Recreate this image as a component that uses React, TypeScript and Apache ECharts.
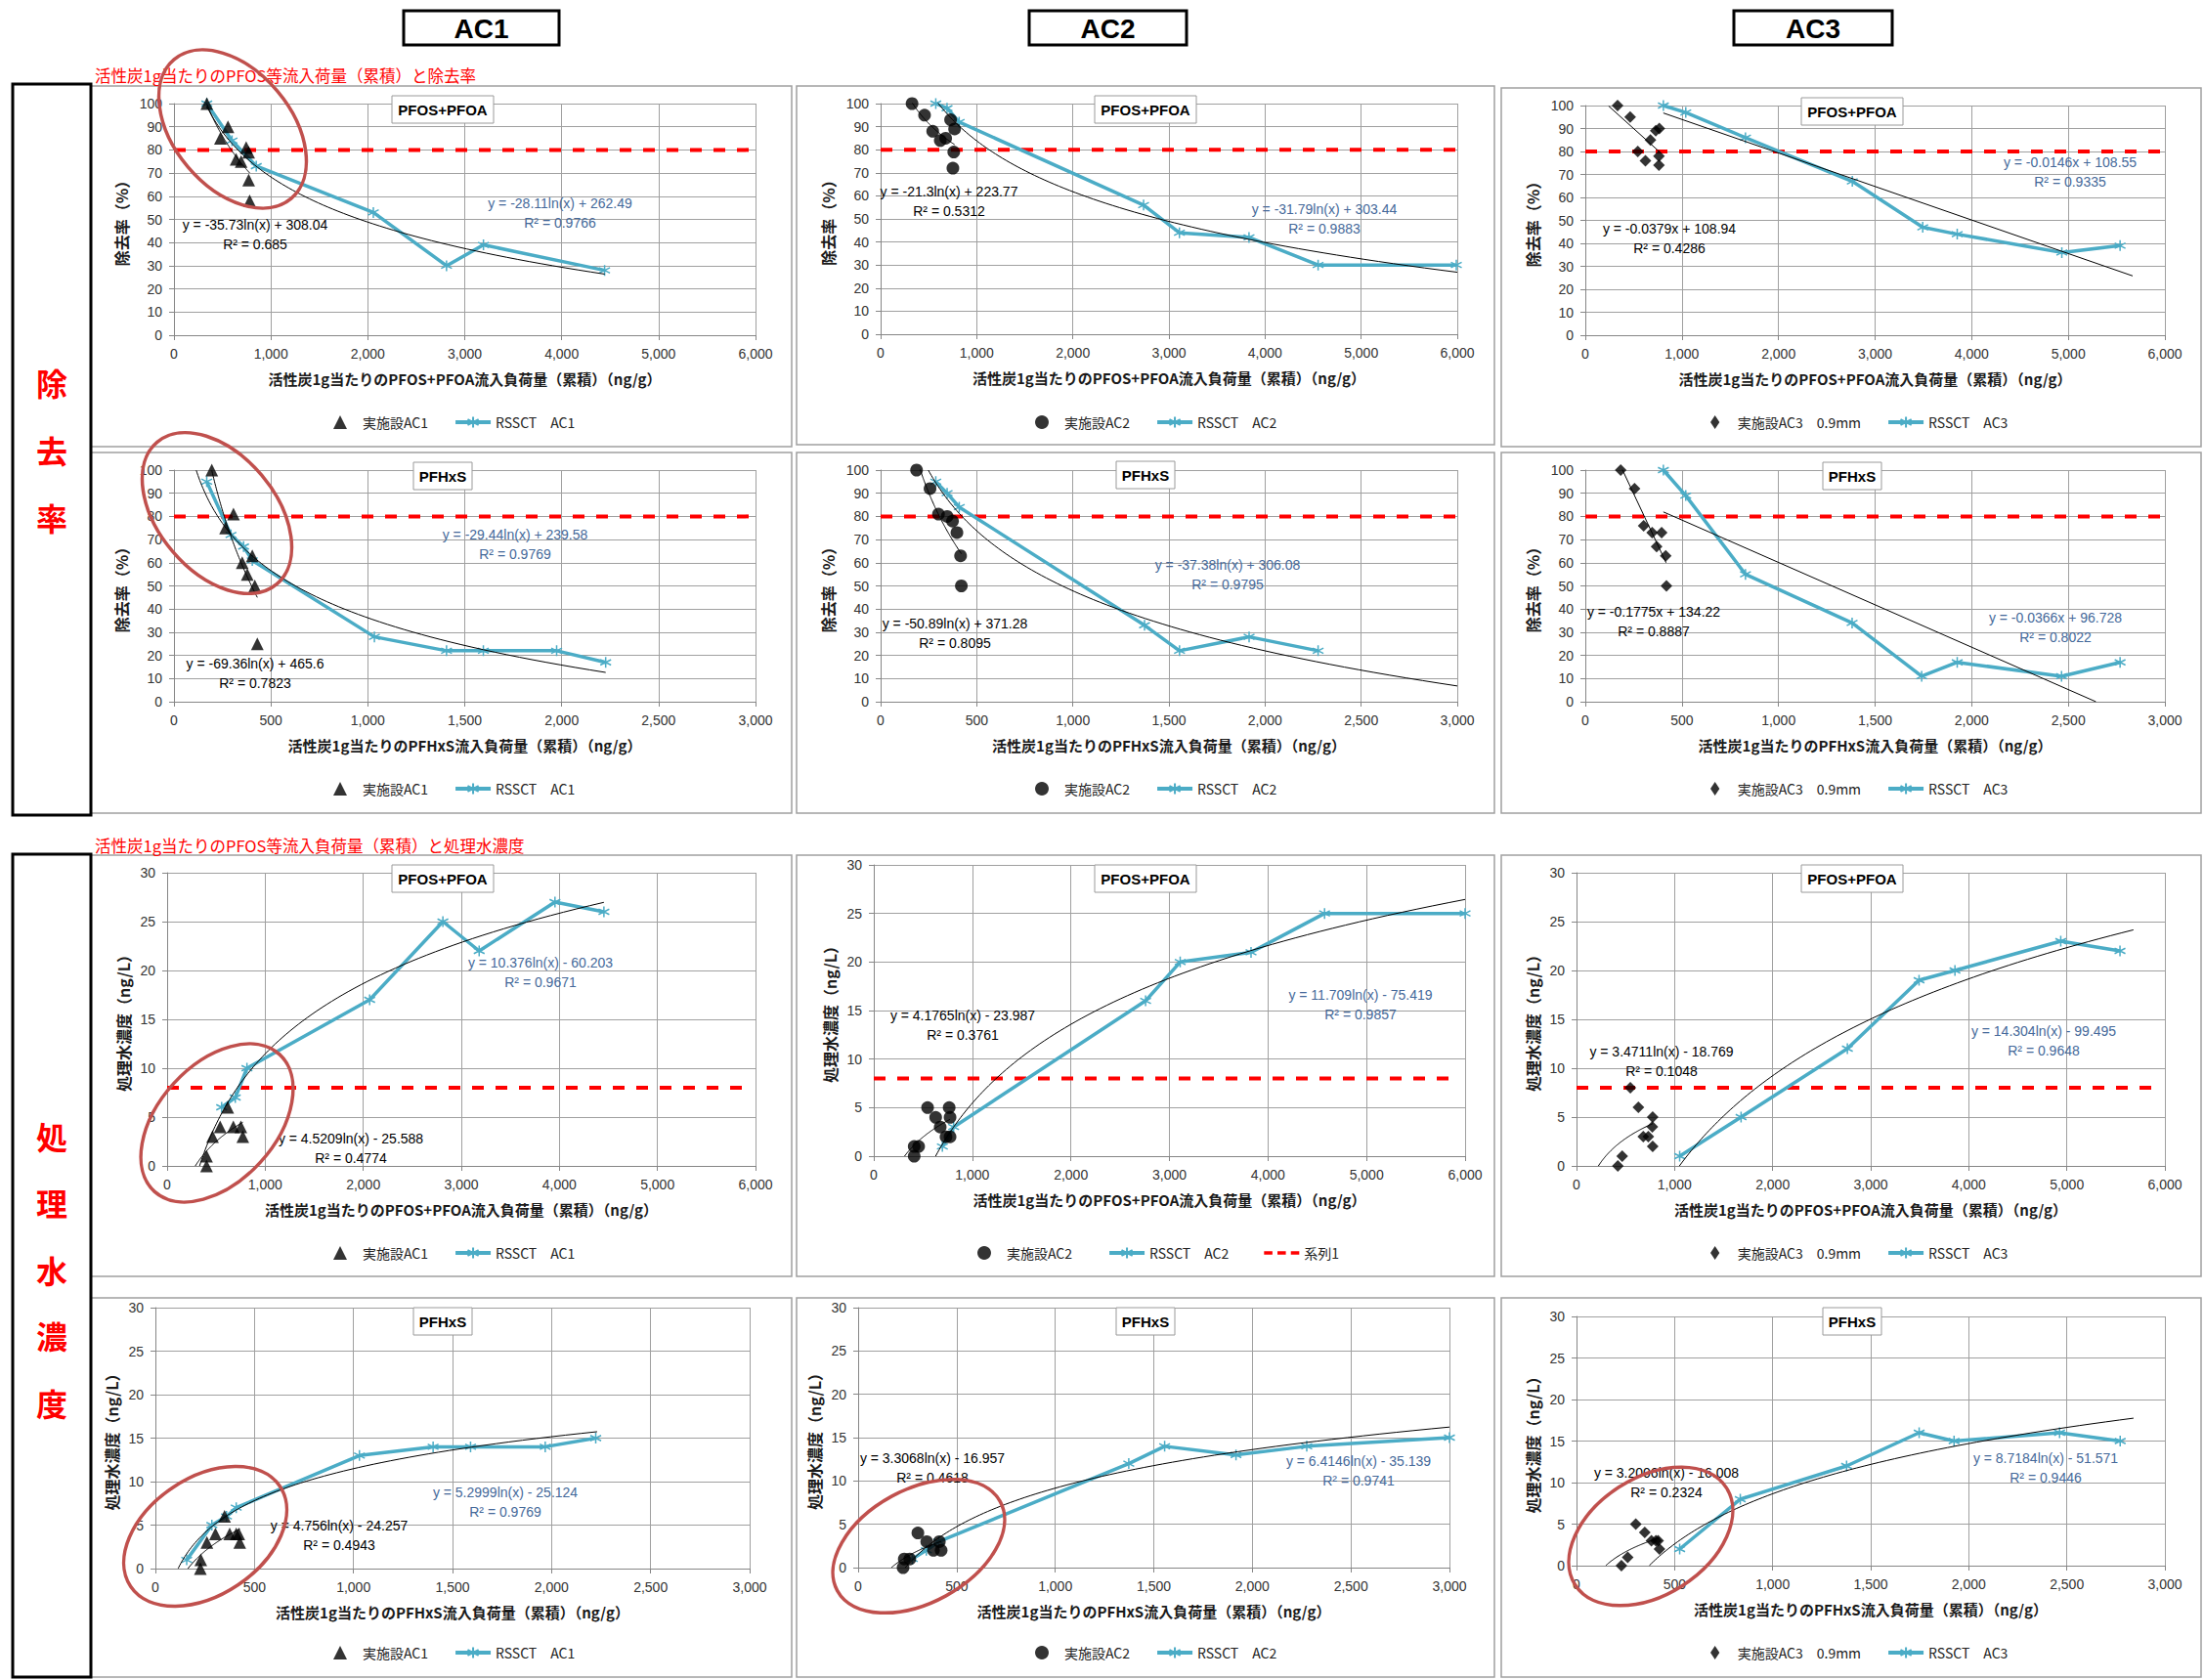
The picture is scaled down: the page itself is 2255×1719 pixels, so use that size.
import React, { useEffect, useRef } from "react";
import * as echarts from "echarts";

// ---------------- fonts / colours ----------------
const FONT = '"Liberation Sans", "Noto Sans CJK JP", sans-serif';
const JP = '"Noto Sans CJK JP", "Liberation Sans", sans-serif';
const CYAN = "#4bacc6";
const EQ_BLUE = "#45699a";
const GRID_GRAY = "#a0a0a0";
const ELLIPSE_RED = "#c0504d";

// ---------------- names / labels ----------------
const plantNames = ["実施設AC1", "実施設AC2", "実施設AC3　0.9mm"];
const rssctNames = ["RSSCT　AC1", "RSSCT　AC2", "RSSCT　AC3"];
const refName = "系列1";
const columnHeaders = ["AC1", "AC2", "AC3"];
const subTitles = ["PFOS+PFOA", "PFHxS"];
const xNamePfos = "活性炭1g当たりのPFOS+PFOA流入負荷量（累積）（ng/g）";
const xNameHxs = "活性炭1g当たりのPFHxS流入負荷量（累積）（ng/g）";
const yNameRemoval = "除去率（%）";
const yNameConc = "処理水濃度（ng/L）";
const redHeading1 = "活性炭1g当たりのPFOS等流入荷量（累積）と除去率";
const redHeading2 = "活性炭1g当たりのPFOS等流入負荷量（累積）と処理水濃度";
const sideLabel1 = ["除", "去", "率"];
const sideLabel2 = ["処", "理", "水", "濃", "度"];

// axis ranges [min, max, interval]
const xRangePfos = [0, 6000, 1000];
const xRangeHxs = [0, 3000, 500];
const yRangeRemoval = [0, 100, 10];
const yRangeConc = [0, 30, 5];
const refRemoval = 80;
const refConc = 8;

// ---------------- data: removal, PFOS+PFOA ----------------
const plantRmPfosAc1 = [[339, 100], [557, 90], [479, 85], [641, 76], [693, 75], [745, 81], [771, 79], [771, 67], [781, 58]];
const rssctRmPfosAc1 = [[339, 100], [599, 84], [849, 73], [2057, 53], [2812, 30], [3193, 39], [4443, 28]];
const plantRmPfosAc2 = [[327, 100], [457, 95], [542, 88], [621, 84], [677, 85], [728, 93], [770, 89], [761, 79], [752, 72]];
const rssctRmPfosAc2 = [[574, 100], [691, 98], [817, 92], [2736, 56], [3109, 44], [3833, 42], [4552, 30], [5990, 30]];
const plantRmPfosAc3 = [[334, 100], [464, 95], [543, 80], [622, 76], [674, 85], [729, 89], [766, 90], [762, 78], [762, 74]];
const rssctRmPfosAc3 = [[808, 100], [1040, 97], [1658, 86], [2764, 67], [3493, 47], [3850, 44], [4933, 36], [5536, 39]];

// ---------------- data: removal, PFHxS ----------------
const plantRmHxsAc1 = [[195, 100], [307, 81], [266, 75], [404, 63], [352, 60], [378, 55], [417, 50], [430, 25]];
const rssctRmHxsAc1 = [[169, 95], [294, 72], [359, 67], [404, 61], [1034, 28], [1406, 22], [1596, 22], [1974, 22], [2227, 17]];
const plantRmHxsAc2 = [[187, 100], [257, 92], [301, 81], [346, 80], [374, 78], [397, 73], [416, 63], [420, 50]];
const rssctRmHxsAc2 = [[287, 95], [346, 90], [409, 84], [1373, 33], [1555, 22], [1917, 28], [2276, 22]];
const plantRmHxsAc3 = [[183, 100], [255, 92], [302, 76], [346, 73], [395, 73], [369, 67], [416, 63], [420, 50]];
const rssctRmHxsAc3 = [[404, 100], [520, 89], [829, 55], [1381, 34], [1741, 11], [1925, 17], [2465, 11], [2768, 17]];

// ---------------- data: concentration, PFOS+PFOA ----------------
const plantCnPfosAc1 = [[402, 0], [402, 1], [463, 3], [541, 4], [618, 6], [675, 4], [752, 4], [772, 3]];
const rssctCnPfosAc1 = [[556, 6], [695, 7], [814, 10], [2065, 17], [2812, 25], [3182, 22], [3955, 27], [4454, 26]];
const plantCnPfosAc2 = [[410, 0], [410, 1], [455, 1], [546, 5], [628, 4], [674, 3], [733, 2], [765, 5], [774, 4], [774, 2]];
const rssctCnPfosAc2 = [[696, 1], [810, 3], [2758, 16], [3109, 20], [3828, 21], [4574, 25], [6000, 25]];
const plantCnPfosAc3 = [[421, 0], [466, 1], [549, 8], [631, 6], [681, 3], [732, 3], [777, 5], [773, 4], [777, 2]];
const rssctCnPfosAc3 = [[1052, 1], [1678, 5], [2762, 12], [3493, 19], [3859, 20], [4938, 23], [5542, 22]];

// ---------------- data: concentration, PFHxS ----------------
const plantCnHxsAc1 = [[227, 0], [229, 1], [260, 3], [303, 4], [349, 6], [375, 4], [408, 4], [421, 4], [426, 3]];
const rssctCnHxsAc1 = [[158, 1], [285, 5], [359, 6], [408, 7], [1030, 13], [1402, 14], [1591, 14], [1968, 14], [2223, 15]];
const plantCnHxsAc2 = [[228, 0], [234, 1], [262, 1], [303, 4], [348, 3], [382, 2], [412, 3], [421, 2]];
const rssctCnHxsAc2 = [[275, 1], [346, 2], [409, 3], [1373, 12], [1555, 14], [1917, 13], [2276, 14], [3000, 15]];
const plantCnHxsAc3 = [[229, 0], [261, 1], [302, 5], [348, 4], [382, 3], [405, 3], [416, 3], [423, 2]];
const rssctCnHxsAc3 = [[526, 2], [835, 8], [1377, 12], [1747, 16], [1925, 15], [2463, 16], [2772, 15]];

// ---------------- trendlines (Excel): [type, a, b, xFrom, xTo] ----------------
const trendRmPfosAc1 = [["log", -35.73, 308.04, 339, 781], ["log", -28.11, 262.49, 339, 4443]];
const trendRmPfosAc2 = [["log", -21.3, 223.77, 327, 770], ["log", -31.79, 303.44, 574, 6000]];
const trendRmPfosAc3 = [["lin", -0.0379, 108.94, 241, 766], ["lin", -0.0146, 108.55, 808, 5666]];
const trendRmHxsAc1 = [["log", -69.36, 465.6, 195, 430], ["log", -29.44, 239.58, 115, 2227]];
const trendRmHxsAc2 = [["log", -50.89, 371.28, 200, 420], ["log", -37.38, 306.08, 248, 3000]];
const trendRmHxsAc3 = [["lin", -0.1775, 134.22, 189, 418], ["lin", -0.0366, 96.728, 404, 2643]];
const trendCnPfosAc1 = [["log", 4.5209, -25.588, 287, 772], ["log", 10.376, -60.203, 331, 4454]];
const trendCnPfosAc2 = [["log", 4.1765, -23.987, 312, 774], ["log", 11.709, -75.419, 627, 6000]];
const trendCnPfosAc3 = [["log", 3.4711, -18.769, 223, 777], ["log", 14.304, -99.495, 1049, 5679]];
const trendCnHxsAc1 = [["log", 4.756, -24.257, 164, 426], ["log", 5.2999, -25.124, 115, 2230]];
const trendCnHxsAc2 = [["log", 3.3068, -16.957, 169, 421], ["log", 6.4146, -35.139, 239, 3000]];
const trendCnHxsAc3 = [["log", 3.2006, -16.008, 149, 423], ["log", 8.7184, -51.571, 371, 2840]];

// ---------------- trendline equation labels ----------------
const eqTexts = [
  ["y = -35.73ln(x) + 308.04", "R² = 0.685", "y = -28.11ln(x) + 262.49", "R² = 0.9766"],
  ["y = -21.3ln(x) + 223.77", "R² = 0.5312", "y = -31.79ln(x) + 303.44", "R² = 0.9883"],
  ["y = -0.0379x + 108.94", "R² = 0.4286", "y = -0.0146x + 108.55", "R² = 0.9335"],
  ["y = -69.36ln(x) + 465.6", "R² = 0.7823", "y = -29.44ln(x) + 239.58", "R² = 0.9769"],
  ["y = -50.89ln(x) + 371.28", "R² = 0.8095", "y = -37.38ln(x) + 306.08", "R² = 0.9795"],
  ["y = -0.1775x + 134.22", "R² = 0.8887", "y = -0.0366x + 96.728", "R² = 0.8022"],
  ["y = 4.5209ln(x) - 25.588", "R² = 0.4774", "y = 10.376ln(x) - 60.203", "R² = 0.9671"],
  ["y = 4.1765ln(x) - 23.987", "R² = 0.3761", "y = 11.709ln(x) - 75.419", "R² = 0.9857"],
  ["y = 3.4711ln(x) - 18.769", "R² = 0.1048", "y = 14.304ln(x) - 99.495", "R² = 0.9648"],
  ["y = 4.756ln(x) - 24.257", "R² = 0.4943", "y = 5.2999ln(x) - 25.124", "R² = 0.9769"],
  ["y = 3.3068ln(x) - 16.957", "R² = 0.4618", "y = 6.4146ln(x) - 35.139", "R² = 0.9741"],
  ["y = 3.2006ln(x) - 16.008", "R² = 0.2324", "y = 8.7184ln(x) - 51.571", "R² = 0.9446"],
];

// ---------------- layout (pixels) ----------------
const GRIDS = [
  [178, 106, 595, 237], [901, 106, 590, 236], [1622, 108, 593, 235],
  [178, 481, 595, 237], [901, 481, 590, 237], [1622, 481, 593, 237],
  [171, 893, 602, 300], [894, 885, 605, 298], [1613, 893, 602, 300],
  [159, 1338, 608, 267], [878, 1338, 605, 266], [1613, 1347, 602, 255],
];
const PANEL_BOXES = [
  [93, 88, 717, 369], [815, 88, 714, 367], [1536, 90, 716, 367],
  [93, 463, 717, 369], [815, 463, 714, 369], [1536, 463, 716, 369],
  [93, 875, 717, 431], [815, 875, 714, 431], [1536, 875, 716, 431],
  [93, 1328, 717, 388], [815, 1328, 714, 388], [1536, 1328, 716, 388],
];
const TITLE_CENTERS = [
  [453, 112], [1172, 112], [1895, 114],
  [453, 487], [1172, 486], [1895, 487],
  [453, 899], [1172, 899], [1895, 899],
  [453, 1352], [1172, 1352], [1895, 1352],
];
// [plantX, plantY, rssctX, rssctY] (centre of first line)
const EQ_POS = [
  [261, 230, 573, 208], [971, 196, 1355, 214], [1708, 234, 2118, 166],
  [261, 679, 527, 547], [977, 638, 1256, 578], [1692, 626, 2103, 632],
  [359, 1165, 553, 985], [985, 1039, 1392, 1018], [1700, 1076, 2091, 1055],
  [347, 1561, 517, 1527], [954, 1492, 1390, 1495], [1705, 1507, 2093, 1492],
];
const LEGEND_POS = [
  [341, 425], [1059, 425], [1750, 425],
  [341, 800], [1059, 800], [1750, 800],
  [341, 1275], [1000, 1275], [1750, 1275],
  [341, 1684], [1059, 1684], [1750, 1684],
];
// [cx, cy, rx, ry, rotation]
const ELLIPSES = [
  [238, 132, 60, 93, 0.7],
  [222, 525, 60, 95, 0.7],
  [222, 1149, 60, 95, -0.74],
  [210, 1572, 60, 92, -0.98],
  [940, 1582, 58, 95, -1.07],
  [1689, 1572, 60, 92, -1.0],
];

const plantData = [
  plantRmPfosAc1, plantRmPfosAc2, plantRmPfosAc3,
  plantRmHxsAc1, plantRmHxsAc2, plantRmHxsAc3,
  plantCnPfosAc1, plantCnPfosAc2, plantCnPfosAc3,
  plantCnHxsAc1, plantCnHxsAc2, plantCnHxsAc3,
];
const rssctData = [
  rssctRmPfosAc1, rssctRmPfosAc2, rssctRmPfosAc3,
  rssctRmHxsAc1, rssctRmHxsAc2, rssctRmHxsAc3,
  rssctCnPfosAc1, rssctCnPfosAc2, rssctCnPfosAc3,
  rssctCnHxsAc1, rssctCnHxsAc2, rssctCnHxsAc3,
];
const trendData = [
  trendRmPfosAc1, trendRmPfosAc2, trendRmPfosAc3,
  trendRmHxsAc1, trendRmHxsAc2, trendRmHxsAc3,
  trendCnPfosAc1, trendCnPfosAc2, trendCnPfosAc3,
  trendCnHxsAc1, trendCnHxsAc2, trendCnHxsAc3,
];

const plantSymbols = ["triangle", "circle", "diamond"];
const plantSizes = [13, 13, 12];
const plantLegendIcons = [
  "path://M5,0L10,10L0,10Z",
  "circle",
  "path://M4,0L8,6L4,12L0,6Z",
];
const ASTERISK = "path://M5,0L5,10M0.7,2.5L9.3,7.5M0.7,7.5L9.3,2.5";
const DASH_ICON = "path://M0,0L10,0L10,4L0,4ZM16,0L26,0L26,4L16,4ZM32,0L42,0L42,4L32,4Z";

function trendCurve(t: any[]) {
  const [kind, a, b, x0, x1] = t;
  if (kind === "lin") return [[x0, a * x0 + b], [x1, a * x1 + b]];
  const pts: number[][] = [];
  const n = 80;
  for (let i = 0; i <= n; i++) {
    const x = x0 * Math.pow(x1 / x0, i / n);
    pts.push([x, a * Math.log(x) + b]);
  }
  return pts;
}

function fmtThousands(v: number) {
  return v.toLocaleString("en-US");
}

function centeredText(text: string, x: number, y: number, extra: any, z: number) {
  return {
    type: "text",
    x,
    y,
    style: {
      text,
      align: "center",
      verticalAlign: "middle",
      textAlign: "center",
      textVerticalAlign: "middle",
      ...extra,
    },
    z,
    silent: true,
  };
}

function buildOption() {
  const grid: any[] = [];
  const xAxis: any[] = [];
  const yAxis: any[] = [];
  const legend: any[] = [];
  const series: any[] = [];
  const elements: any[] = [];

  for (let i = 0; i < 12; i++) {
    const row = Math.floor(i / 3);
    const col = i % 3;
    const isRemoval = row < 2;
    const isPfos = row % 2 === 0;
    const xr = isPfos ? xRangePfos : xRangeHxs;
    const yr = isRemoval ? yRangeRemoval : yRangeConc;
    const g = GRIDS[i];
    grid.push({ left: g[0], top: g[1], width: g[2], height: g[3], containLabel: false });

    xAxis.push({
      type: "value",
      gridIndex: i,
      min: xr[0],
      max: xr[1],
      interval: xr[2],
      name: isPfos ? xNamePfos : xNameHxs,
      nameLocation: "middle",
      nameGap: 37,
      nameTextStyle: { fontFamily: JP, fontSize: 15, fontWeight: "bold", color: "#1a1a1a" },
      axisLine: { show: true, lineStyle: { color: "#868686", width: 1 } },
      axisTick: { show: true, length: 5, lineStyle: { color: "#868686" } },
      axisLabel: { fontSize: 14, color: "#333", margin: 12, formatter: fmtThousands, fontFamily: FONT },
      splitLine: { show: true, lineStyle: { color: GRID_GRAY, width: 1 } },
    });
    yAxis.push({
      type: "value",
      gridIndex: i,
      min: yr[0],
      max: yr[1],
      interval: yr[2],
      name: isRemoval ? yNameRemoval : yNameConc,
      nameLocation: "middle",
      nameRotate: 90,
      nameGap: isRemoval ? 46 : 37,
      nameTextStyle: { fontFamily: JP, fontSize: 16, fontWeight: "bold", color: "#1a1a1a" },
      axisLine: { show: true, lineStyle: { color: "#868686", width: 1 } },
      axisTick: { show: true, length: 5, lineStyle: { color: "#868686" } },
      axisLabel: { fontSize: 14, color: "#333", margin: 12, fontFamily: FONT },
      splitLine: { show: true, lineStyle: { color: GRID_GRAY, width: 1 } },
    });

    // reference dashed line
    if (row < 3) {
      const refY = isRemoval ? refRemoval : refConc;
      const xEnd = row === 2 ? xr[1] * 0.985 : xr[1];
      series.push({
        name: refName,
        type: "line",
        xAxisIndex: i,
        yAxisIndex: i,
        data: [[xr[0], refY], [xEnd, refY]],
        symbol: "none",
        lineStyle: { color: "#ff0000", width: 4, type: [12, 12] },
        itemStyle: { color: "#ff0000" },
        z: 1,
        silent: true,
      });
    }

    // RSSCT line
    series.push({
      name: rssctNames[col],
      type: "line",
      xAxisIndex: i,
      yAxisIndex: i,
      data: rssctData[i],
      symbol: ASTERISK,
      symbolSize: 11,
      showAllSymbol: true,
      lineStyle: { color: CYAN, width: 3.5 },
      itemStyle: { color: CYAN, borderColor: CYAN, borderWidth: 1.5 },
      z: 2,
    });

    // trendlines
    const tr = trendData[i];
    series.push({
      name: "trendPlant" + i,
      type: "line",
      xAxisIndex: i,
      yAxisIndex: i,
      data: trendCurve(tr[0]),
      symbol: "none",
      lineStyle: { color: "#000", width: 1 },
      z: 3,
      silent: true,
    });
    series.push({
      name: "trendRssct" + i,
      type: "line",
      xAxisIndex: i,
      yAxisIndex: i,
      data: trendCurve(tr[1]),
      symbol: "none",
      lineStyle: { color: "#000", width: 1 },
      z: 3,
      silent: true,
    });

    // plant scatter
    series.push({
      name: plantNames[col],
      type: "scatter",
      xAxisIndex: i,
      yAxisIndex: i,
      data: plantData[i],
      symbol: plantSymbols[col],
      symbolSize: plantSizes[col],
      symbolKeepAspect: true,
      itemStyle: { color: "#000" },
      z: 4,
    });

    // legend
    const lp = LEGEND_POS[i];
    const ld: any[] = [
      { name: plantNames[col], icon: plantLegendIcons[col] },
      { name: rssctNames[col] },
    ];
    if (i === 7) ld.push({ name: refName, icon: DASH_ICON });
    legend.push({
      left: lp[0],
      top: lp[1],
      padding: 0,
      itemWidth: 36,
      itemHeight: 14,
      itemGap: i === 7 ? 36 : 26,
      symbolKeepAspect: true,
      data: ld,
      lineStyle: { width: 4 },
      textStyle: { fontFamily: JP, fontSize: 14, color: "#222" },
      selectedMode: false,
    });

    // panel border
    const pb = PANEL_BOXES[i];
    elements.push({
      type: "rect",
      shape: { x: pb[0], y: pb[1], width: pb[2], height: pb[3] },
      style: { fill: "none", stroke: "#a0a0a0", lineWidth: 1.5 },
      z: 0,
      silent: true,
    });

    // title box
    const tc = TITLE_CENTERS[i];
    const tw = isPfos ? 104 : 60;
    const th = 28;
    elements.push({
      type: "rect",
      shape: { x: tc[0] - tw / 2, y: tc[1] - th / 2, width: tw, height: th },
      style: { fill: "#fff", stroke: "#9a9a9a", lineWidth: 1 },
      z: 50,
      silent: true,
    });
    elements.push(
      centeredText(subTitles[isPfos ? 0 : 1], tc[0], tc[1],
        { fill: "#000", fontSize: 15, fontWeight: "bold", fontFamily: FONT }, 51)
    );

    // equation labels
    const ep = EQ_POS[i];
    const et = eqTexts[i];
    const eqItems: any[] = [
      [et[0], ep[0], ep[1], "#000"],
      [et[1], ep[0], ep[1] + 20, "#000"],
      [et[2], ep[2], ep[3], EQ_BLUE],
      [et[3], ep[2], ep[3] + 20, EQ_BLUE],
    ];
    for (const it of eqItems) {
      elements.push(centeredText(it[0], it[1], it[2], { fill: it[3], fontSize: 14, fontFamily: FONT }, 40));
    }
  }

  // column headers
  const headerBoxes = [[413, 11, 159, 35], [1053, 11, 161, 35], [1774, 11, 162, 35]];
  headerBoxes.forEach((b, k) => {
    elements.push({
      type: "rect",
      shape: { x: b[0], y: b[1], width: b[2], height: b[3] },
      style: { fill: "#fff", stroke: "#000", lineWidth: 3 },
      z: 30,
      silent: true,
    });
    elements.push(
      centeredText(columnHeaders[k], b[0] + b[2] / 2, b[1] + b[3] / 2 + 1,
        { fill: "#000", fontSize: 28, fontWeight: "bold", fontFamily: FONT }, 31)
    );
  });

  // side black boxes
  elements.push({
    type: "rect",
    shape: { x: 13, y: 86, width: 80, height: 748 },
    style: { fill: "none", stroke: "#000", lineWidth: 3 },
    z: 30,
    silent: true,
  });
  elements.push({
    type: "rect",
    shape: { x: 13, y: 874, width: 80, height: 842 },
    style: { fill: "none", stroke: "#000", lineWidth: 3 },
    z: 30,
    silent: true,
  });
  const side1Y = [391, 460, 529];
  sideLabel1.forEach((ch, k) => {
    elements.push(centeredText(ch, 53, side1Y[k], { fill: "#ff0000", fontSize: 32, fontWeight: "bold", fontFamily: JP }, 31));
  });
  const side2Y = [1162, 1230, 1299, 1366, 1435];
  sideLabel2.forEach((ch, k) => {
    elements.push(centeredText(ch, 53, side2Y[k], { fill: "#ff0000", fontSize: 32, fontWeight: "bold", fontFamily: JP }, 31));
  });

  // red headings
  [[redHeading1, 77], [redHeading2, 865]].forEach((h: any) => {
    elements.push({
      type: "text",
      x: 97,
      y: h[1],
      style: {
        text: h[0], fill: "#ff0000", fontSize: 16.5, fontFamily: JP,
        align: "left", verticalAlign: "middle", textAlign: "left", textVerticalAlign: "middle",
      },
      z: 31,
      silent: true,
    });
  });

  // ellipses
  ELLIPSES.forEach((e) => {
    elements.push({
      type: "ellipse",
      x: e[0],
      y: e[1],
      rotation: e[4],
      shape: { cx: 0, cy: 0, rx: e[2], ry: e[3] },
      style: { fill: "none", stroke: ELLIPSE_RED, lineWidth: 3.5 },
      z: 60,
      silent: true,
    });
  });

  return {
    animation: false,
    backgroundColor: "#fff",
    textStyle: { fontFamily: FONT },
    grid,
    xAxis,
    yAxis,
    legend,
    series,
    graphic: elements,
  };
}

export default function App() {
  const ref = useRef<HTMLDivElement>(null);
  useEffect(() => {
    if (!ref.current) return;
    const chart = echarts.init(ref.current, null, { renderer: "svg" });
    chart.setOption(buildOption() as any);
    return () => chart.dispose();
  }, []);
  return (
    <div
      ref={ref}
      style={{ position: "absolute", left: 0, top: 0, width: 2255, height: 1719, background: "#fff" }}
    />
  );
}
